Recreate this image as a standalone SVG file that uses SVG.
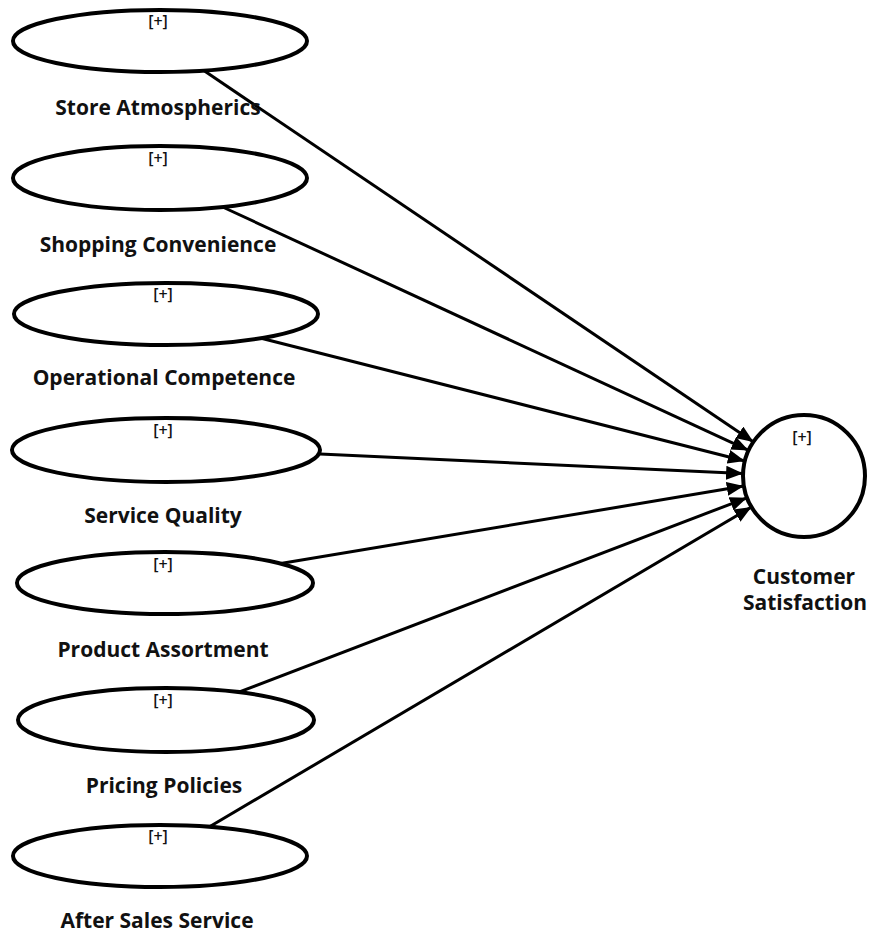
<svg xmlns="http://www.w3.org/2000/svg" width="870" height="933" viewBox="0 0 870 933">
<style>
.lv{fill:#fff;stroke:#000;stroke-width:4}
.lbl{font-family:"Open Sans","Noto Sans","DejaVu Sans",sans-serif;font-weight:bold;font-size:21px;fill:#111;text-anchor:middle}
.pl{font-family:"Open Sans","Noto Sans","DejaVu Sans",sans-serif;font-size:16px;font-weight:600;fill:#111;text-anchor:middle}
.cn{stroke:#000;stroke-width:3;fill:none;marker-end:url(#ah)}
</style>
<defs>
<marker id="ah" markerUnits="userSpaceOnUse" markerWidth="18" markerHeight="14" refX="17" refY="7" orient="auto">
<path d="M0,0 L17,7 L0,14 z" fill="#000"/>
</marker>
</defs>
<rect width="870" height="933" fill="#fff"/>
<g id="connectors">
<line class="cn" x1="203.8" y1="70.6" x2="753.5" y2="441.9"/>
<line class="cn" x1="222.6" y1="207" x2="748.6" y2="450.4"/>
<line class="cn" x1="261.2" y1="338.2" x2="744.9" y2="461"/>
<line class="cn" x1="320" y1="454" x2="743.1" y2="473.5"/>
<line class="cn" x1="280.6" y1="563.6" x2="743.8" y2="486.1"/>
<line class="cn" x1="238.8" y1="692.1" x2="747" y2="497.8"/>
<line class="cn" x1="209.5" y1="826.8" x2="751.5" y2="507"/>
</g>
<g id="store-atmospherics">
<ellipse class="lv" cx="160" cy="41" rx="147" ry="31"/>
<text class="pl" x="158" y="27">[+]</text>
<text class="lbl" x="158" y="115">Store Atmospherics</text>
</g>
<g id="shopping-convenience">
<ellipse class="lv" cx="160" cy="178" rx="147" ry="32"/>
<text class="pl" x="158" y="164">[+]</text>
<text class="lbl" x="158" y="252">Shopping Convenience</text>
</g>
<g id="operational-competence">
<ellipse class="lv" cx="166" cy="314" rx="152" ry="31"/>
<text class="pl" x="163" y="300">[+]</text>
<text class="lbl" x="164" y="385">Operational Competence</text>
</g>
<g id="service-quality">
<ellipse class="lv" cx="166" cy="450" rx="154" ry="32"/>
<text class="pl" x="163" y="436">[+]</text>
<text class="lbl" x="163" y="523">Service Quality</text>
</g>
<g id="product-assortment">
<ellipse class="lv" cx="165" cy="583" rx="148" ry="31"/>
<text class="pl" x="163" y="570">[+]</text>
<text class="lbl" x="163" y="657">Product Assortment</text>
</g>
<g id="pricing-policies">
<ellipse class="lv" cx="166" cy="720" rx="148" ry="32"/>
<text class="pl" x="163" y="706">[+]</text>
<text class="lbl" x="164" y="793">Pricing Policies</text>
</g>
<g id="after-sales-service">
<ellipse class="lv" cx="160" cy="856" rx="147" ry="31"/>
<text class="pl" x="158" y="842">[+]</text>
<text class="lbl" x="157" y="928">After Sales Service</text>
</g>
<g id="customer-satisfaction">
<circle class="lv" cx="804" cy="476" r="61"/>
<text class="pl" x="802" y="443">[+]</text>
<text class="lbl" x="804" y="584">Customer</text>
<text class="lbl" x="805" y="610">Satisfaction</text>
</g>
</svg>
